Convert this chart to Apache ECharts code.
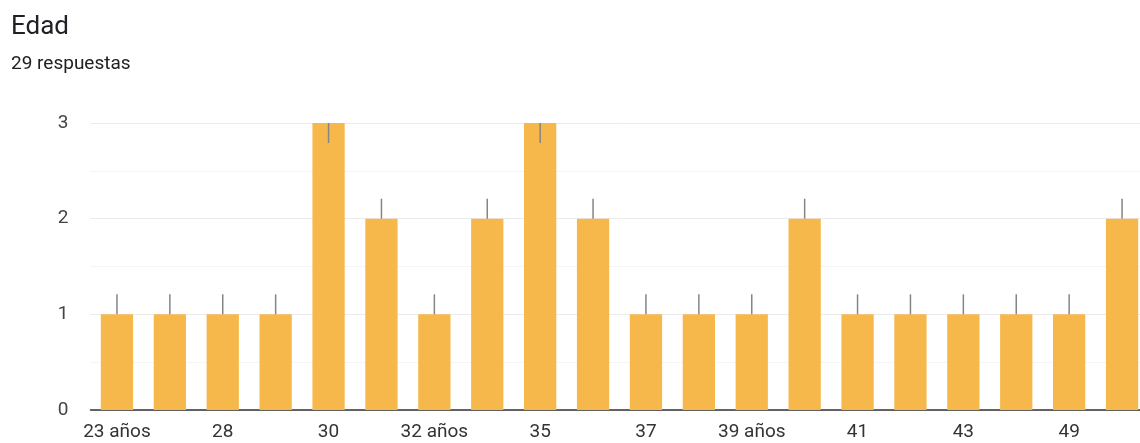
<!DOCTYPE html>
<html>
<head>
<meta charset="utf-8">
<script src="https://cdn.jsdelivr.net/npm/echarts@6/dist/echarts.min.js"></script>
<style>
html,body{margin:0;padding:0;background:#fff;overflow:hidden;}
#chart{width:1160px;height:443px;}
</style>
</head>
<body>
<div id="chart"></div>
<script>
const categories = ["23 años","27","28","29","30","31","32 años","33","35","36","37","38","39 años","40","41","42","43","45","49","50"];
const counts = [1,1,1,1,3,2,1,2,3,2,1,1,1,2,1,1,1,1,1,2];
const yTicks = [0,1,2,3];
const titleText = "Edad";
const subtitleText = "29 respuestas";

const chart = echarts.init(document.getElementById('chart'), null, {renderer:'canvas'});
chart.setOption({
  animation:false,
  backgroundColor:'#fff',
  title:[
    {text:titleText, left:6, top:9, textStyle:{fontFamily:'Roboto', fontSize:26, fontWeight:'normal', color:'#202124'}},
    {text:subtitleText, left:6, top:50, textStyle:{fontFamily:'Roboto', fontSize:19, fontWeight:'normal', color:'#202124'}}
  ],
  grid:{left:90.5, top:123, width:1058, height:287, containLabel:false},
  xAxis:{
    type:'category',
    data:categories,
    axisTick:{show:false},
    axisLine:{lineStyle:{color:'#333', width:1.5}},
    axisLabel:{interval:1, margin:13, fontFamily:'Roboto', fontSize:19, color:'#333'},
    splitLine:{show:false}
  },
  yAxis:{
    type:'value',
    min:yTicks[0], max:yTicks[yTicks.length-1], interval:1,
    axisLine:{show:false}, axisTick:{show:false},
    axisLabel:{margin:22, fontFamily:'Roboto', fontSize:19, color:'#444'},
    splitLine:{lineStyle:{color:'#ebebeb', width:1}},
    minorTick:{show:false, splitNumber:2},
    minorSplitLine:{show:true, lineStyle:{color:'#f5f5f5', width:1}}
  },
  series:[
    {
      type:'bar',
      data:counts,
      barCategoryGap:'39%',
      itemStyle:{color:'#F6B84B'},
      z:2
    },
    {
      type:'custom',
      data:counts.map((v,i)=>[i,v]),
      z:3,
      silent:true,
      renderItem:function(params, api){
        const p = api.coord([api.value(0), api.value(1)]);
        const top = params.coordSys.y;
        let y1 = p[1]-20, y2 = p[1];
        if (y1 < top) { y1 = p[1]; y2 = p[1]+20; }
        return {type:'line', shape:{x1:p[0], y1:y1, x2:p[0], y2:y2}, style:{stroke:'#858585', lineWidth:1.5}};
      }
    }
  ]
});
</script>
</body>
</html>
